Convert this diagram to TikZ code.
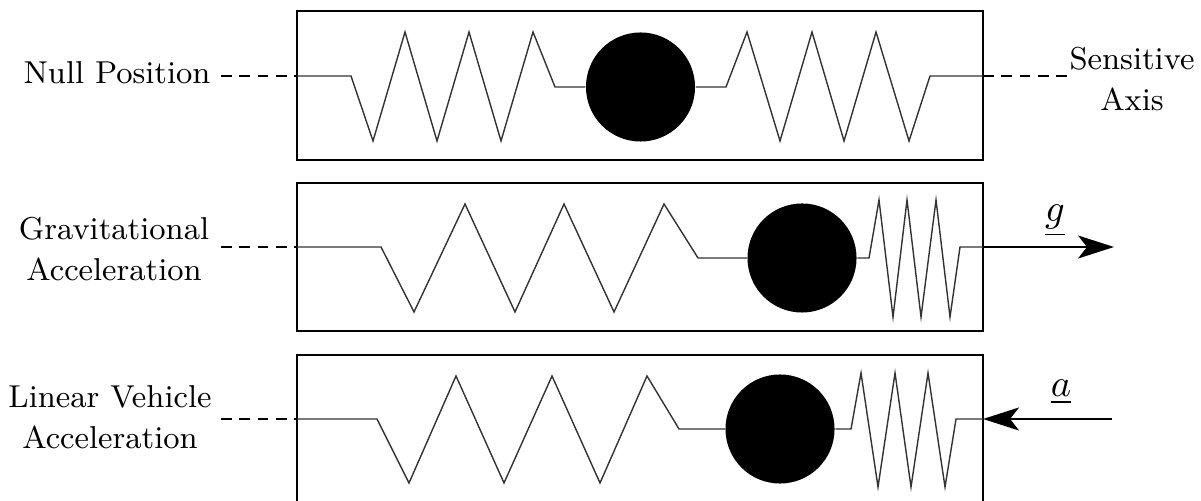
\documentclass[tikz,border=0pt]{standalone}
\usepackage{mathtools}
\usetikzlibrary{arrows.meta}

\begin{document}
\begin{tikzpicture}[x=0.01cm, y=-0.01cm,
    casing/.style={line width=0.55pt},
    spring/.style={line width=0.4pt, draw=black!80, line join=miter},
    ball/.style={circle, fill=black, minimum size=1.09cm, inner sep=0pt},
    nullline/.style={line width=0.5pt, dash pattern=on 3.1pt off 2.1pt},
    force/.style={line width=0.6pt, -{Stealth[length=0.36cm, width=0.23cm, inset=0.09cm]}},
    caption/.style={font=\fontsize{9}{11.6}\selectfont, align=center},
    vector/.style={font=\fontsize{10.5}{12}\selectfont}]
    \useasboundingbox (0,0) rectangle (1201,501);

    % Null position casing
    \draw[casing] (297,11) rectangle (983,160);
    \node[ball] (ballA) at (640.5,87) {};
    \draw[spring] (297,76) -- (351,76) -- (373,141) -- (405,32) -- (437,141) -- (469,32) -- (501,141) -- (533,32) -- (555,87) -- (ballA);
    \draw[spring] (ballA) -- (726,87) -- (747,32) -- (780,141) -- (812,32) -- (844,141) -- (876,32) -- (909,141) -- (930,76) -- (983,76);

    % Gravitational casing
    \draw[casing] (297,183) rectangle (983,331);
    \node[ball] (ballB) at (802,258) {};
    \draw[spring] (297,247) -- (381,247) -- (414,312) -- (465,204) -- (515,312) -- (564,204) -- (614,312) -- (664,204) -- (698,258) -- (ballB);
    \draw[spring] (ballB) -- (869,258) -- (879,200) -- (893,317) -- (907,200) -- (921,317) -- (936,200) -- (950,317) -- (960,247) -- (983,247);

    % Linear casing, cut off by the lower edge
    \draw[casing] (297,501) -- (297,355) -- (983,355) -- (983,501);
    \node[ball] (ballC) at (780,429) {};
    \draw[spring] (297,419) -- (377,419) -- (409,483) -- (456,376) -- (504,483) -- (552,376) -- (600,483) -- (647,376) -- (679,429) -- (ballC);
    \draw[spring] (ballC) -- (851,429) -- (861,373) -- (878,487) -- (895,373) -- (911,487) -- (928,373) -- (945,487) -- (956,419) -- (983,419);

    % Labels
    \node[caption] (nullText) at (117,73) {Null Position};
    \node[caption] (axisText) at (1132,79) {Sensitive\\Axis};
    \node[caption] (gravText) at (114,249) {Gravitational\\Acceleration};
    \node[caption] (linText) at (110,417) {Linear Vehicle\\Acceleration};
    \node[vector] (gText) at (1055,221) {$\underline{g}$};
    \node[vector] (aText) at (1061,392) {$\underline{a}$};

    % Ends of the dashed lines and arrows
    \coordinate (nullA) at (221,76);
    \coordinate (wallA) at (297,76);
    \coordinate (wallR) at (983,76);
    \coordinate (axisEnd) at (1070,76);
    \coordinate (nullB) at (221,247);
    \coordinate (wallB) at (297,247);
    \coordinate (wallG) at (983,247);
    \coordinate (gEnd) at (1114,247);
    \coordinate (nullC) at (221,419);
    \coordinate (wallC) at (297,419);
    \coordinate (wallL) at (983,419);
    \coordinate (aStart) at (1112,419);

    % Dashed lines
    \draw[nullline] (nullA) -- (wallA);
    \draw[nullline] (wallR) -- (axisEnd);
    \draw[nullline] (nullB) -- (wallB);
    \draw[nullline] (nullC) -- (wallC);

    % Arrows
    \draw[force] (wallG) -- (gEnd);
    \draw[force] (aStart) -- (wallL);
\end{tikzpicture}
\end{document}
